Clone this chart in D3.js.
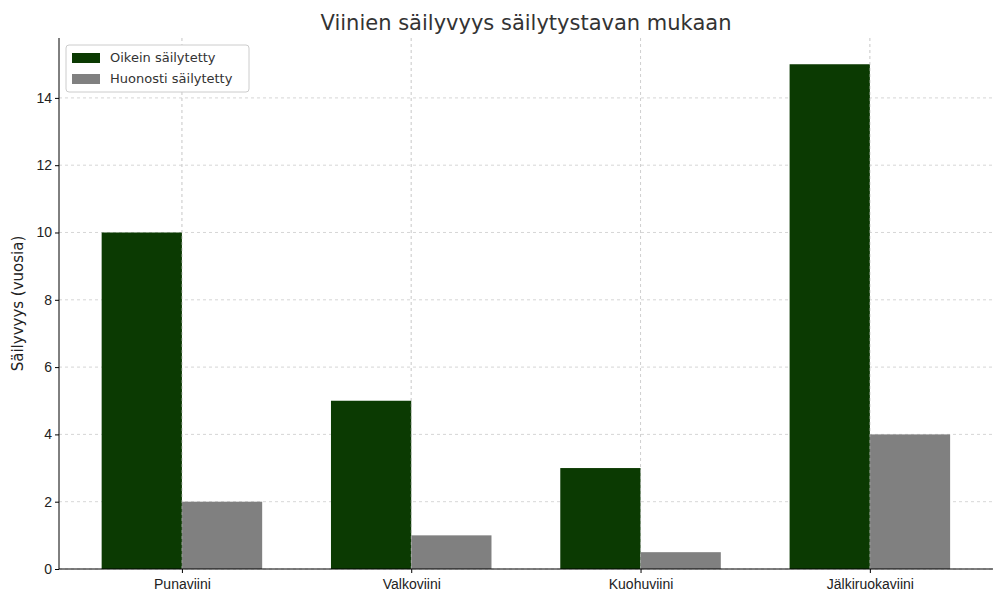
<!DOCTYPE html>
<html><head><meta charset="utf-8">
<script src="https://cdn.jsdelivr.net/npm/d3@7"></script>
<style>body{margin:0;background:#fff}svg{font-family:"DejaVu Sans",sans-serif}</style>
</head><body>
<svg id="c" width="1000" height="600"></svg>
<script>
const categories = ["Punaviini","Valkoviini","Kuohuviini","Jälkiruokaviini"];
const seriesNames = ["Oikein säilytetty","Huonosti säilytetty"];
const goodValues = [10,5,3,15];
const badValues = [2,1,0.5,4];
const yTicks = [0,2,4,6,8,10,12,14];
const colors = ["#0b3a02","#808080"];

const svg = d3.select("#c");
const L=59,R=993,T=38,B=569;
const x = d3.scaleLinear().domain([-0.536,3.537]).range([L,R]);
const y = d3.scaleLinear().domain([0,15.78]).range([B,T]);
const bw = x(0.35)-x(0);

// grid
const g = svg.append("g");
g.selectAll(".gy").data(yTicks).join("line").attr("x1",L).attr("x2",R)
 .attr("y1",d=>y(d)).attr("y2",d=>y(d)).attr("stroke","#ccc").attr("stroke-dasharray","3,3").attr("stroke-width",0.8);
g.selectAll(".gx").data(categories).join("line").attr("y1",T).attr("y2",B)
 .attr("x1",(d,i)=>x(i)).attr("x2",(d,i)=>x(i)).attr("stroke","#ccc").attr("stroke-dasharray","3,3").attr("stroke-width",0.8);

[goodValues,badValues].forEach((vals,s)=>{
  svg.append("g").selectAll("rect").data(vals).join("rect")
   .attr("x",(d,i)=>x(i)+(s===0?-bw:0)).attr("width",bw)
   .attr("y",d=>y(d)).attr("height",d=>B-y(d)).attr("fill",colors[s]);
});
// re-draw vertical grid above bars (matplotlib shows it over bars faintly)
svg.append("g").selectAll("line").data(categories).join("line").attr("y1",T).attr("y2",B)
 .attr("x1",(d,i)=>x(i)).attr("x2",(d,i)=>x(i)).attr("stroke","#ccc").attr("stroke-dasharray","3,3").attr("stroke-width",0.8).attr("opacity",0.6);

const ya = svg.append("g").attr("transform",`translate(${L},0)`)
 .call(d3.axisLeft(y).tickValues(yTicks).tickSize(4).tickFormat(d3.format("d")));
const xa = svg.append("g").attr("transform",`translate(0,${B})`)
 .call(d3.axisBottom(x).tickValues([0,1,2,3]).tickSize(4).tickFormat(i=>categories[i]));
[ya,xa].forEach(a=>{a.selectAll("text").attr("font-size",14).attr("fill","#222");a.select(".domain").remove();});
xa.selectAll("text").attr("dy","0.9em");
svg.append("line").attr("x1",L).attr("x2",L).attr("y1",T).attr("y2",B).attr("stroke","#000");
svg.append("line").attr("x1",L).attr("x2",R).attr("y1",B).attr("y2",B).attr("stroke","#000");

svg.append("text").attr("x",526).attr("y",30).attr("text-anchor","middle").attr("font-size",21).attr("fill","#333").text("Viinien säilyvyys säilytystavan mukaan");
svg.append("text").attr("transform",`translate(23,${(T+B)/2}) rotate(-90)`).attr("text-anchor","middle").attr("font-size",15).attr("fill","#222").text("Säilyvyys (vuosia)");

const lg = svg.append("g");
lg.append("rect").attr("x",66).attr("y",45).attr("width",183).attr("height",47).attr("fill","#fff").attr("stroke","#ccc").attr("rx",3);
seriesNames.forEach((n,i)=>{
  lg.append("rect").attr("x",72).attr("y",53+i*21).attr("width",28).attr("height",10).attr("fill",colors[i]);
  lg.append("text").attr("x",110).attr("y",62+i*21).attr("font-size",13).attr("fill","#333").text(n);
});
</script>
</body></html>
